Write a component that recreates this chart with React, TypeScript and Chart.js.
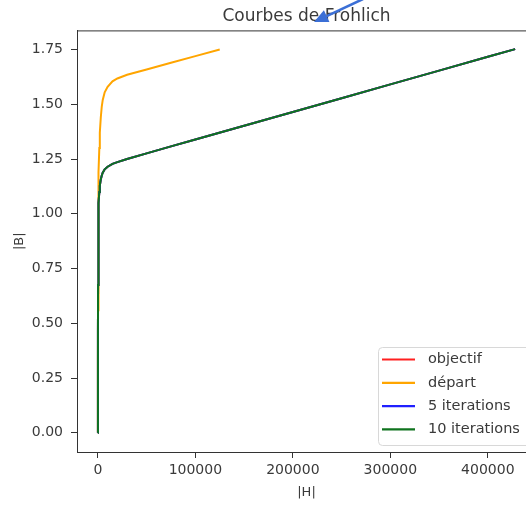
import { useEffect, useRef } from "react";
import { Chart, registerables } from "chart.js";

Chart.register(...registerables);

// ---- data ----
const SERIES_LABELS = ["objectif", "départ", "5 iterations", "10 iterations"];
const SERIES_COLORS = ["#ff2020", "#ffa500", "#2020ff", "#0f731e"];

const H_DEPART = [0, 50, 100, 200, 300, 500, 750, 1000, 1500, 2000, 3000, 4000, 5000, 7000, 10000, 15000, 20000, 30000, 50000, 75000, 100000, 125000];
const B_DEPART = [0, 0.19, 0.34, 0.56, 0.72, 0.93, 1.09, 1.19, 1.3, 1.37, 1.44, 1.49, 1.52, 1.555, 1.58, 1.605, 1.618, 1.635, 1.659, 1.69, 1.72, 1.75];

const H_FIT = [0, 50, 100, 200, 300, 500, 750, 1000, 1500, 2000, 3000, 4000, 5000, 7000, 10000, 15000, 20000, 30000, 50000, 75000, 100000, 150000, 200000, 250000, 300000, 350000, 400000, 428000];
const B_OBJECTIF = [0, 0.289, 0.467, 0.675, 0.793, 0.921, 1.002, 1.049, 1.1, 1.128, 1.157, 1.175, 1.188, 1.203, 1.215, 1.228, 1.236, 1.25, 1.276, 1.308, 1.339, 1.402, 1.465, 1.528, 1.591, 1.654, 1.717, 1.752];
const B_ITER5 = [0, 0.289, 0.467, 0.675, 0.793, 0.921, 1.002, 1.049, 1.1, 1.128, 1.157, 1.175, 1.188, 1.203, 1.215, 1.228, 1.236, 1.25, 1.276, 1.308, 1.339, 1.402, 1.465, 1.528, 1.591, 1.654, 1.717, 1.752];
const B_ITER10 = [0, 0.289, 0.467, 0.675, 0.793, 0.921, 1.002, 1.049, 1.1, 1.128, 1.157, 1.175, 1.188, 1.203, 1.215, 1.228, 1.236, 1.25, 1.276, 1.308, 1.339, 1.402, 1.465, 1.528, 1.591, 1.654, 1.717, 1.752];

const X_TICKS = [0, 100000, 200000, 300000, 400000];
const Y_TICKS = [0, 0.25, 0.5, 0.75, 1.0, 1.25, 1.5, 1.75];
const X_RANGE = [-21400, 449400];
const Y_RANGE = [-0.0875, 1.8375];

const TITLE = "Courbes de Frohlich";
const X_TITLE = "|H|";
const Y_TITLE = "|B|";

const FONT = "'DejaVu Sans', sans-serif";
const TEXT_COLOR = "#3a3a3a";
const AXIS_COLOR = "#333333";

function toPoints(xs: number[], ys: number[]) {
  return xs.map((x, i) => ({ x, y: ys[i] }));
}

const framePlugin = {
  id: "frame",
  afterDraw(chart: any) {
    const { ctx, chartArea } = chart;
    ctx.save();
    ctx.strokeStyle = AXIS_COLOR;
    ctx.lineWidth = 1;
    ctx.strokeRect(chartArea.left + 0.5, chartArea.top + 0.5, chartArea.right - chartArea.left, chartArea.bottom - chartArea.top);
    ctx.restore();
  },
};

const legendPlugin = {
  id: "boxLegend",
  afterDraw(chart: any) {
    const { ctx } = chart;
    const left = 378;
    const top = 347;
    const width = 200;
    const height = 98;
    const rowH = 23.3;
    ctx.save();
    ctx.fillStyle = "rgba(255,255,255,0.85)";
    ctx.strokeStyle = "#d8d8d8";
    ctx.lineWidth = 1;
    ctx.beginPath();
    (ctx as any).roundRect(left + 0.5, top + 0.5, width, height, 4);
    ctx.fill();
    ctx.stroke();
    ctx.font = `14.5px ${FONT}`;
    ctx.textBaseline = "middle";
    const ds = chart.data.datasets;
    SERIES_LABELS.forEach((label, i) => {
      const cy = top + 12.5 + i * rowH;
      ctx.strokeStyle = ds[i].borderColor;
      ctx.lineWidth = 2.2;
      ctx.beginPath();
      ctx.moveTo(382, cy);
      ctx.lineTo(415, cy);
      ctx.stroke();
      ctx.fillStyle = TEXT_COLOR;
      ctx.fillText(label, 428, cy);
    });
    ctx.restore();
  },
};

const arrowPlugin = {
  id: "arrow",
  afterDraw(chart: any) {
    const { ctx } = chart;
    const tip = { x: 314, y: 22 };
    const from = { x: 363, y: -1 };
    const dx = tip.x - from.x;
    const dy = tip.y - from.y;
    const len = Math.hypot(dx, dy);
    const ux = dx / len;
    const uy = dy / len;
    const headL = 14;
    const headW = 6.5;
    const bx = tip.x - headL * ux;
    const by = tip.y - headL * uy;
    ctx.save();
    ctx.strokeStyle = "#3b6fd6";
    ctx.fillStyle = "#3b6fd6";
    ctx.lineWidth = 2.5;
    ctx.beginPath();
    ctx.moveTo(from.x, from.y);
    ctx.lineTo(bx, by);
    ctx.stroke();
    ctx.beginPath();
    ctx.moveTo(tip.x, tip.y);
    ctx.lineTo(bx - headW * uy, by + headW * ux);
    ctx.lineTo(bx + headW * uy, by - headW * ux);
    ctx.closePath();
    ctx.fill();
    ctx.restore();
  },
};

export default function App() {
  const canvasRef = useRef<HTMLCanvasElement | null>(null);

  useEffect(() => {
    if (!canvasRef.current) return;
    Chart.defaults.font.family = FONT;
    const ys = [B_OBJECTIF, B_DEPART, B_ITER5, B_ITER10];
    const xs = [H_FIT, H_DEPART, H_FIT, H_FIT];
    const orders = [4, 3, 2, 1];
    const chart = new Chart(canvasRef.current, {
      type: "scatter",
      data: {
        datasets: SERIES_LABELS.map((label, i) => ({
          label,
          data: toPoints(xs[i], ys[i]),
          showLine: true,
          borderColor: SERIES_COLORS[i],
          backgroundColor: SERIES_COLORS[i],
          borderWidth: 2,
          pointRadius: 0,
          pointHoverRadius: 0,
          tension: 0,
          order: orders[i],
        })),
      },
      options: {
        animation: false,
        responsive: false,
        maintainAspectRatio: false,
        layout: { padding: { left: 0, right: 24, top: 0, bottom: 0 } },
        plugins: {
          legend: { display: false },
          tooltip: { enabled: false },
          title: {
            display: true,
            text: TITLE,
            fullSize: false,
            color: TEXT_COLOR,
            font: { size: 17, weight: "normal", family: FONT },
            padding: { top: 6, bottom: 4 },
          },
        },
        scales: {
          x: {
            type: "linear",
            min: X_RANGE[0],
            max: X_RANGE[1],
            afterBuildTicks: (s: any) => {
              s.ticks = X_TICKS.map((v) => ({ value: v }));
            },
            afterFit: (s: any) => {
              s.height = 53;
            },
            ticks: {
              color: TEXT_COLOR,
              font: { size: 14, family: FONT },
              padding: 4,
              maxRotation: 0,
              callback: (v: any) => String(v),
            },
            grid: { drawOnChartArea: false, drawTicks: true, tickLength: 6, tickColor: AXIS_COLOR, color: AXIS_COLOR },
            border: { display: true, color: AXIS_COLOR, width: 1 },
            title: {
              display: true,
              text: X_TITLE,
              color: TEXT_COLOR,
              font: { size: 13, family: FONT },
              padding: { top: 0, bottom: 5 },
            },
          },
          y: {
            type: "linear",
            min: Y_RANGE[0],
            max: Y_RANGE[1],
            afterBuildTicks: (s: any) => {
              s.ticks = Y_TICKS.map((v) => ({ value: v }));
            },
            afterFit: (s: any) => {
              s.width = 77;
            },
            ticks: {
              color: TEXT_COLOR,
              font: { size: 14, family: FONT },
              padding: 8,
              callback: (v: any) => Number(v).toFixed(2),
            },
            grid: { drawOnChartArea: false, drawTicks: true, tickLength: 6, tickColor: AXIS_COLOR, color: AXIS_COLOR },
            border: { display: true, color: AXIS_COLOR, width: 1 },
            title: {
              display: true,
              text: Y_TITLE,
              color: TEXT_COLOR,
              font: { size: 13, family: FONT },
              padding: { top: 12, bottom: 0 },
            },
          },
        },
      },
      plugins: [framePlugin, legendPlugin, arrowPlugin],
    } as any);
    return () => chart.destroy();
  }, []);

  return (
    <div style={{ position: "fixed", left: 0, top: 0, width: 526, height: 505, overflow: "hidden", background: "#fff" }}>
      <canvas ref={canvasRef} width={560} height={505} style={{ position: "absolute", left: 0, top: 0, width: 560, height: 505 }} />
    </div>
  );
}
